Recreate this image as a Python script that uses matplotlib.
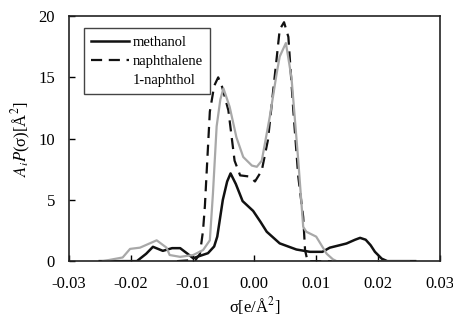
import matplotlib
matplotlib.use("Agg")
import matplotlib.pyplot as plt
from matplotlib.lines import Line2D

plt.rcParams["font.family"] = ["Liberation Serif", "DejaVu Serif"]
plt.rcParams["mathtext.fontset"] = "stix"

# sigma-profiles
meth_x = [-0.025, -0.019, -0.0175, -0.0164, -0.0148, -0.0133, -0.012, -0.0108, -0.0099,
          -0.0075, -0.0065, -0.006, -0.0051, -0.0044, -0.00385, -0.003, -0.0019, -0.0002,
          0.001, 0.002, 0.0041, 0.0068, 0.009, 0.011, 0.0122, 0.0138, 0.0149, 0.0163,
          0.0171, 0.018, 0.0188, 0.0195, 0.0206, 0.0215, 0.026]
meth_y = [0.0, 0.0, 0.6, 1.17, 0.84, 1.06, 1.06, 0.6, 0.24,
          0.65, 1.2, 2.0, 5.0, 6.5, 7.16, 6.3, 4.9, 4.1,
          3.2, 2.4, 1.45, 0.95, 0.76, 0.76, 1.1, 1.3, 1.44, 1.75,
          1.9, 1.75, 1.3, 0.76, 0.2, 0.0, 0.0]

naph_x = [-0.0125, -0.0095, -0.0088, -0.0083, -0.008, -0.0077, -0.0072, -0.0065, -0.00585,
          -0.0052, -0.0042, -0.0032, -0.0023, -0.0007, 0.0001, 0.0012, 0.0022, 0.003,
          0.0037, 0.0041, 0.0048, 0.0055, 0.0063, 0.0071, 0.0079, 0.0082, 0.0086, 0.0125]
naph_y = [0.0, 0.1, 0.6, 2.5, 4.5, 7.4, 12.2, 14.3, 15.0,
          14.2, 12.3, 8.2, 7.0, 6.9, 6.5, 7.4, 9.9, 13.7,
          17.0, 18.9, 19.5, 18.3, 12.3, 6.9, 3.6, 0.9, 0.0, 0.0]

nol_x = [-0.0245, -0.0213, -0.0201, -0.0185, -0.0158, -0.0142, -0.0137, -0.012, -0.0099,
         -0.0083, -0.0072, -0.0067, -0.0061, -0.0055, -0.005, -0.004, -0.0029, -0.0018,
         -0.0004, 0.0004, 0.0012, 0.0025, 0.0036, 0.0041, 0.0051, 0.006, 0.0071, 0.0079,
         0.0084, 0.01, 0.0117, 0.0127, 0.0133, 0.025]
nol_y = [0.0, 0.3, 1.0, 1.1, 1.7, 1.1, 0.5, 0.35, 0.5,
         0.9, 1.7, 5.5, 11.0, 13.2, 14.1, 12.6, 10.1, 8.5,
         7.8, 7.7, 8.2, 11.8, 15.3, 16.7, 17.8, 15.0, 8.2, 2.8,
         2.4, 2.0, 0.6, 0.15, 0.0, 0.0]

x_ticks = [-0.03, -0.02, -0.01, 0.0, 0.01, 0.02, 0.03]
x_ticklabels = ["-0.03", "-0.02", "-0.01", "0.00", "0.01", "0.02", "0.03"]
y_ticks = [0, 5, 10, 15, 20]

fig = plt.figure(figsize=(4.53, 3.22), dpi=100)
ax = fig.add_axes([0.152, 0.189, 0.819, 0.761])

l_meth, = ax.plot(meth_x, meth_y, color="#111111", linewidth=1.8, label="methanol")
l_naph, = ax.plot(naph_x, naph_y, color="#111111", linewidth=1.6,
                  linestyle=(0, (5, 3)), label="naphthalene")
ax.plot(nol_x, nol_y, color="#a8a8a8", linewidth=1.6)

ax.set_xlim(-0.03, 0.03)
ax.set_ylim(0, 20)
ax.set_xticks(x_ticks)
ax.set_xticklabels(x_ticklabels)
ax.set_yticks(y_ticks)
ax.tick_params(direction="in", labelsize=12, length=4, width=1)
ax.tick_params(axis="x", pad=11)
ax.tick_params(axis="y", pad=10)
for s in ax.spines.values():
    s.set_linewidth(1.2)
    s.set_color("#222222")

ax.set_xlabel("σ[e/Å$^2$]", fontsize=12, labelpad=2)
ax.set_ylabel("$A_iP$(σ)[Å$^2$]", fontsize=12, labelpad=4)

blank = Line2D([], [], color="none")
leg = ax.legend([l_meth, l_naph, blank], ["methanol", "naphthalene", "1-naphthol"],
                loc="upper left", bbox_to_anchor=(0.04, 0.951), borderaxespad=0,
                fontsize=10.5, fancybox=False, edgecolor="#444444", framealpha=1,
                handlelength=2.6, handletextpad=0.25, borderpad=0.5, labelspacing=0.4)
leg.get_frame().set_linewidth(1.0)

fig.savefig("out.png", dpi=100)
